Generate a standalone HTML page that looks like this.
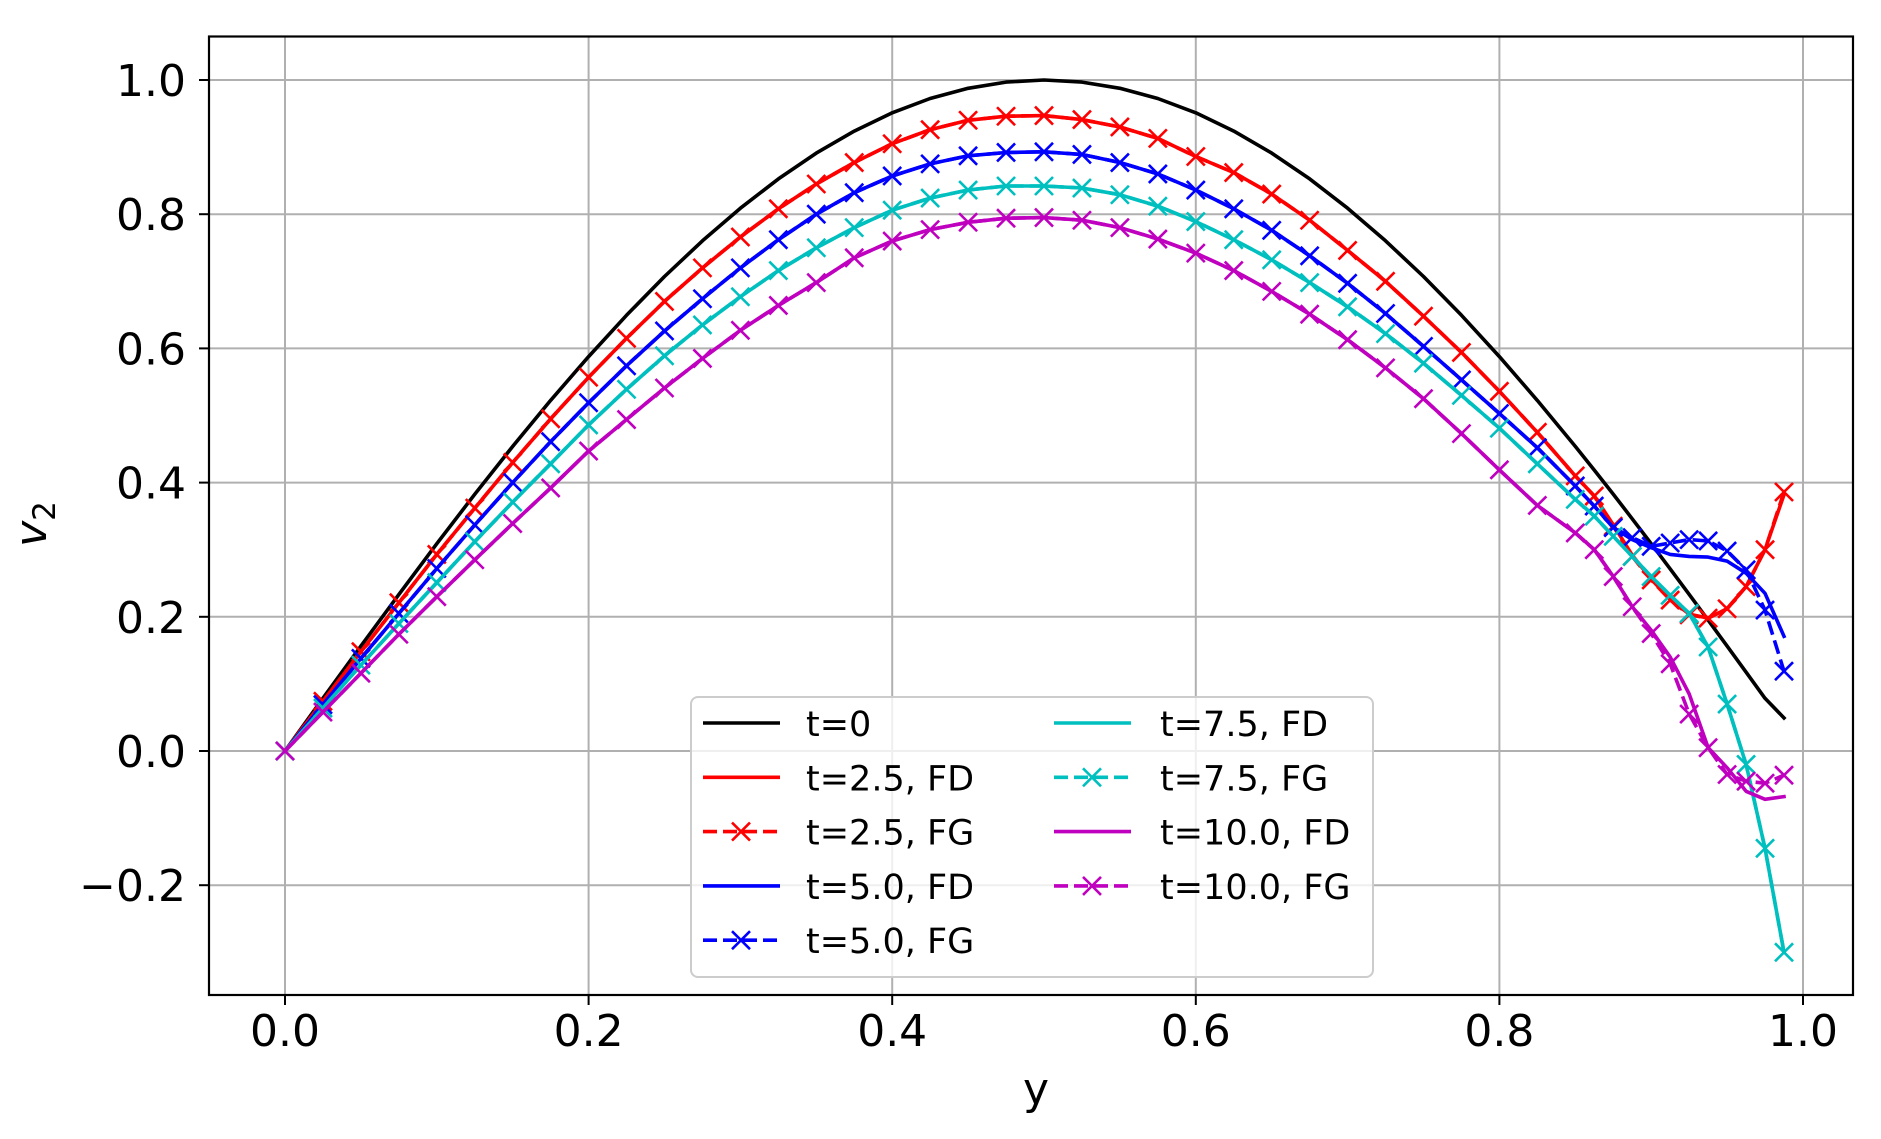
<!DOCTYPE html>
<html><head><meta charset="utf-8"><style>
html,body{margin:0;padding:0;background:#fff;}
svg{display:block;font-family:"DejaVu Sans","Liberation Sans",sans-serif;}
</style></head><body>
<svg id="chart" width="1881" height="1139" viewBox="0 0 1881 1139" xmlns="http://www.w3.org/2000/svg">
<rect x="0" y="0" width="1881" height="1139" fill="#fff"/>
<g id="grid"></g>
<g id="series"></g>
<rect x="209" y="36.5" width="1644" height="958.5" fill="none" stroke="#000" stroke-width="2.2"/>
<g id="ticks"></g>
<text x="1036" y="1104" font-size="44" text-anchor="middle">y</text>
<text transform="translate(46,524) rotate(-90)" font-size="44" text-anchor="middle"><tspan font-style="italic">v</tspan><tspan font-size="31" dy="9">2</tspan></text>
<g id="legend"></g>
</svg>
<script>
const xs=[0,0.025,0.05,0.075,0.1,0.125,0.15,0.175,0.2,0.225,0.25,0.275,0.3,0.325,0.35,0.375,0.4,0.425,0.45,0.475,0.5,0.525,0.55,0.575,0.6,0.625,0.65,0.675,0.7,0.725,0.75,0.775,0.8,0.825,0.85,0.8625,0.875,0.8875,0.9,0.9125,0.925,0.9375,0.95,0.9625,0.975,0.9875];
const t0=[0,0.0785,0.1564,0.2334,0.309,0.3827,0.454,0.5225,0.5878,0.6494,0.7071,0.7604,0.809,0.8526,0.891,0.9239,0.9511,0.9724,0.9877,0.9969,1,0.9969,0.9877,0.9724,0.9511,0.9239,0.891,0.8526,0.809,0.7604,0.7071,0.6494,0.5878,0.5225,0.454,0.4187,0.3827,0.3461,0.309,0.2714,0.2334,0.1951,0.1564,0.1175,0.0785,0.0493];
const fd25=[0,0.074,0.148,0.221,0.293,0.362,0.43,0.495,0.557,0.615,0.67,0.72,0.766,0.808,0.845,0.877,0.905,0.926,0.94,0.946,0.947,0.941,0.93,0.913,0.886,0.862,0.83,0.791,0.746,0.7,0.648,0.594,0.536,0.475,0.41,0.38,0.337,0.292,0.256,0.226,0.204,0.198,0.212,0.245,0.3,0.382];
const fg25=[0,0.074,0.148,0.221,0.293,0.362,0.43,0.495,0.557,0.615,0.67,0.72,0.766,0.808,0.845,0.877,0.905,0.926,0.94,0.946,0.947,0.941,0.93,0.913,0.886,0.862,0.83,0.791,0.746,0.7,0.648,0.594,0.536,0.475,0.41,0.38,0.335,0.29,0.255,0.225,0.203,0.198,0.212,0.245,0.3,0.386];
const fd50=[0,0.069,0.138,0.205,0.272,0.337,0.4,0.461,0.519,0.574,0.626,0.674,0.72,0.762,0.8,0.832,0.857,0.875,0.887,0.892,0.893,0.889,0.877,0.86,0.836,0.808,0.776,0.738,0.697,0.652,0.603,0.553,0.503,0.452,0.395,0.365,0.333,0.315,0.303,0.293,0.29,0.289,0.283,0.265,0.235,0.171];
const fg50=[0,0.069,0.138,0.205,0.272,0.337,0.4,0.461,0.519,0.574,0.626,0.674,0.72,0.762,0.8,0.832,0.857,0.875,0.887,0.892,0.893,0.889,0.877,0.86,0.836,0.808,0.776,0.738,0.697,0.652,0.603,0.553,0.503,0.452,0.395,0.365,0.333,0.318,0.305,0.31,0.315,0.313,0.298,0.27,0.21,0.119];
const fd75=[0,0.064,0.128,0.19,0.251,0.312,0.371,0.428,0.486,0.539,0.589,0.635,0.677,0.716,0.75,0.78,0.806,0.824,0.836,0.842,0.842,0.839,0.829,0.812,0.789,0.762,0.732,0.698,0.662,0.622,0.578,0.53,0.481,0.428,0.375,0.35,0.32,0.29,0.26,0.232,0.205,0.155,0.07,-0.02,-0.145,-0.3];
const fg75=[0,0.064,0.128,0.19,0.251,0.312,0.371,0.428,0.486,0.539,0.589,0.635,0.677,0.716,0.75,0.78,0.806,0.824,0.836,0.842,0.842,0.839,0.829,0.812,0.789,0.762,0.732,0.698,0.662,0.622,0.578,0.53,0.481,0.428,0.375,0.35,0.32,0.29,0.26,0.232,0.205,0.155,0.07,-0.02,-0.145,-0.3];
const fd100=[0,0.058,0.116,0.174,0.23,0.285,0.339,0.392,0.447,0.494,0.541,0.585,0.627,0.664,0.698,0.735,0.76,0.777,0.788,0.794,0.795,0.791,0.78,0.763,0.742,0.716,0.685,0.651,0.613,0.571,0.525,0.473,0.419,0.366,0.325,0.3,0.26,0.215,0.18,0.14,0.085,0.005,-0.025,-0.06,-0.072,-0.068];
const fg100=[0,0.058,0.116,0.174,0.23,0.285,0.339,0.392,0.447,0.494,0.541,0.585,0.627,0.664,0.698,0.735,0.76,0.777,0.788,0.794,0.795,0.791,0.78,0.763,0.742,0.716,0.685,0.651,0.613,0.571,0.525,0.473,0.419,0.366,0.325,0.3,0.26,0.215,0.175,0.13,0.055,0.005,-0.035,-0.045,-0.048,-0.036];
const xTicks=[0,0.2,0.4,0.6,0.8,1.0];
const xTickLabels=["0.0","0.2","0.4","0.6","0.8","1.0"];
const yTicks=[-0.2,0,0.2,0.4,0.6,0.8,1.0];
const yTickLabels=["\u22120.2","0.0","0.2","0.4","0.6","0.8","1.0"];
const legendLabels=["t=0","t=2.5, FD","t=2.5, FG","t=5.0, FD","t=5.0, FG","t=7.5, FD","t=7.5, FG","t=10.0, FD","t=10.0, FG"];

const NS="http://www.w3.org/2000/svg";
function X(v){return 285+v*1518;}
function Y(v){return 751-v*671;}
function mk(tag,attrs,parent){const e=document.createElementNS(NS,tag);for(const k in attrs)e.setAttribute(k,attrs[k]);parent.appendChild(e);return e;}
const grid=document.getElementById('grid'),ticks=document.getElementById('ticks'),ser=document.getElementById('series'),leg=document.getElementById('legend');
xTicks.forEach((t,i)=>{
  const g=mk('line',{x1:X(t),x2:X(t),y1:36.5,y2:995,stroke:'#b0b0b0','stroke-width':2},grid);
  
  
  const tk=mk('line',{x1:X(t),x2:X(t),y1:995,y2:1005,stroke:'#000','stroke-width':2},ticks);
  
  
  const tx=mk('text',{x:X(t),y:1046,'font-size':44,'text-anchor':'middle'},ticks);
  tx.textContent=xTickLabels[i];
  
  
});
yTicks.forEach((t,i)=>{
  const g=mk('line',{x1:209,x2:1853,y1:Y(t),y2:Y(t),stroke:'#b0b0b0','stroke-width':2},grid);
  
  
  const tk=mk('line',{x1:199,x2:209,y1:Y(t),y2:Y(t),stroke:'#000','stroke-width':2},ticks);
  
  
  const tx=mk('text',{x:186,y:Y(t)+16,'font-size':44,'text-anchor':'end'},ticks);
  tx.textContent=yTickLabels[i];
  
  
});
const seriesDefs=[
 {d:t0,c:'#000000',dash:false,n:'series-t0'},
 {d:fd25,c:'#ff0000',dash:false,n:'series-t2.5-fd'},
 {d:fg25,c:'#ff0000',dash:true,n:'series-t2.5-fg'},
 {d:fd50,c:'#0000ff',dash:false,n:'series-t5.0-fd'},
 {d:fg50,c:'#0000ff',dash:true,n:'series-t5.0-fg'},
 {d:fd75,c:'#00bfbf',dash:false,n:'series-t7.5-fd'},
 {d:fg75,c:'#00bfbf',dash:true,n:'series-t7.5-fg'},
 {d:fd100,c:'#bf00bf',dash:false,n:'series-t10.0-fd'},
 {d:fg100,c:'#bf00bf',dash:true,n:'series-t10.0-fg'}];
function cross(x,y,s,c,p){
  const e=mk('path',{d:`M${x-s},${y-s}L${x+s},${y+s}M${x-s},${y+s}L${x+s},${y-s}`,stroke:c,'stroke-width':2.6,fill:'none'},p);
  
  
}
seriesDefs.forEach(s=>{
  const g=mk('g',{},ser);
  
  
  const d=s.d.map((v,i)=>(i?'L':'M')+X(xs[i]).toFixed(1)+','+Y(v).toFixed(1)).join('');
  const p=mk('path',{d:d,fill:'none',stroke:s.c,'stroke-width':3.6,'stroke-linejoin':'round','stroke-linecap':s.dash?'butt':'square'},g);
  if(s.dash)p.setAttribute('stroke-dasharray','14 6');
  
  
  if(s.dash)s.d.forEach((v,i)=>cross(X(xs[i]),Y(v),9,s.c,g));
});
// legend
const box=mk('rect',{x:691,y:697,width:682,height:280,rx:7,fill:'#fff','fill-opacity':0.8,stroke:'#cccccc','stroke-width':2},leg);


seriesDefs.forEach((s,i)=>{
  const col=i<5?0:1,row=i<5?i:i-5;
  const lx=col?1054:703,tx=col?1160:806,y=723+row*54.3;
  const g=mk('g',{},leg);
  
  
  const l=mk('line',{x1:lx,x2:lx+77,y1:y,y2:y,stroke:s.c,'stroke-width':3.6},g);
  if(s.dash){l.setAttribute('stroke-dasharray','14 6');cross(lx+38,y,9,s.c,g);}
  const t=mk('text',{x:tx,y:y+13,'font-size':35},g);
  t.textContent=legendLabels[i];
});
</script>
</body></html>
